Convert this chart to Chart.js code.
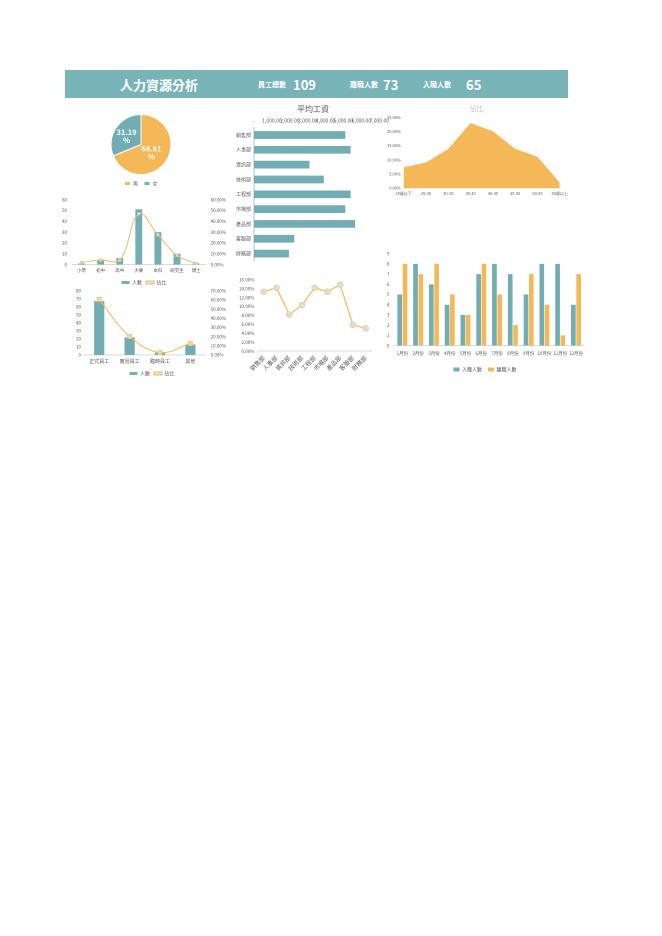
<!DOCTYPE html>
<html>
<head>
<meta charset="utf-8">
<script src="https://cdn.jsdelivr.net/npm/chart.js@4"></script>
<style>
  body { margin: 0; background: #fff; font-family: "Noto Sans CJK TC", sans-serif; }
  .box { position: absolute; }
  #header { position: absolute; left: 65px; top: 70px; width: 503px; height: 28px; background: #78b3b8; color: #fff; }
  #header span { position: absolute; white-space: nowrap; font-weight: bold; }
  .big { font-size: 13px; top: 5px; }
  .small { font-size: 7px; top: 9px; }
</style>
</head>
<body>
<div id="header">
  <span style="left:55px;top:5px;font-size:13px;">人力資源分析</span>
  <span class="small" style="left:193px;">員工總數</span>
  <span class="big" style="left:228px;">109</span>
  <span class="small" style="left:285px;">離職人數</span>
  <span class="big" style="left:318px;">73</span>
  <span class="small" style="left:358px;">入職人數</span>
  <span class="big" style="left:401px;">65</span>
</div>

<canvas id="pie" class="box" style="left:96px;top:110px;"></canvas>
<canvas id="edu" class="box" style="left:55px;top:192px;"></canvas>
<canvas id="type" class="box" style="left:55px;top:283px;"></canvas>
<canvas id="salary" class="box" style="left:225px;top:104px;"></canvas>
<canvas id="share" class="box" style="left:228px;top:274px;"></canvas>
<canvas id="age" class="box" style="left:384px;top:104px;"></canvas>
<canvas id="month" class="box" style="left:380px;top:246px;"></canvas>

<script>
// colours
const teal = "#71adb3";
const orange = "#f5b859";

// gender
const genderLabels = ["男", "女"];
const genderShare = [68.81, 31.19];

// education
const eduLabels = ["小學", "初中", "高中", "大專", "本科", "研究生", "博士"];
const eduCount = [1, 4, 6, 51, 30, 10, 1];
const eduShare = [0.02, 0.042, 0.04, 0.47, 0.275, 0.085, 0.01];

// employee type
const typeLabels = ["正式員工", "實習員工", "臨時員工", "其他"];
const typeCount = [67, 22, 3, 13];
const typeShare = [0.605, 0.201, 0.027, 0.125];

// average salary by department
const deptLabels = ["銷售部", "人事部", "資訊部", "技術部", "工程部", "市場部", "產品部", "客服部", "財務部"];
const deptSalary = [5100, 5400, 3100, 3900, 5400, 5100, 5650, 2250, 1950];
const deptShare = [0.133, 0.142, 0.082, 0.103, 0.142, 0.133, 0.149, 0.059, 0.051];

// age
const ageLabels = ["25歲以下", "25-30", "30-35", "35-40", "40-45", "45-50", "50-55", "55歲以上"];
const ageShare = [0.073, 0.090, 0.138, 0.229, 0.200, 0.138, 0.110, 0.018];

// monthly
const monthLabels = ["1月份", "2月份", "3月份", "4月份", "5月份", "6月份", "7月份", "8月份", "9月份", "10月份", "11月份", "12月份"];
const hires = [5, 8, 6, 4, 3, 7, 8, 7, 5, 8, 8, 4];
const leaves = [8, 7, 8, 5, 3, 8, 5, 2, 7, 4, 1, 7];

Chart.defaults.font.family = '"Noto Sans CJK TC", sans-serif';
Chart.defaults.font.size = 5;
Chart.defaults.color = "#595959";
Chart.defaults.animation = false;
Chart.defaults.responsive = false;
Chart.defaults.devicePixelRatio = 2;
Chart.defaults.plugins.tooltip.enabled = false;

function sizeCanvas(id, w, h) {
  const c = document.getElementById(id);
  c.width = w;
  c.height = h;
  c.style.width = w + "px";
  c.style.height = h + "px";
  return c.getContext("2d");
}

const pct = (v) => (v * 100).toFixed(2) + "%";
const noGrid = { display: false, drawTicks: false };
const smallLegend = {
  position: "bottom",
  labels: { boxWidth: 6, boxHeight: 4, padding: 6, font: { size: 5 } }
};
const comboLegend = {
  position: "bottom", reverse: true,
  labels: { boxWidth: 8, boxHeight: 3, padding: 4, font: { size: 5 } }
};

// pie labels drawn on slices
const pieLabels = {
  id: "pieLabels",
  afterDatasetsDraw(chart) {
    const ctx = chart.ctx;
    chart.getDatasetMeta(0).data.forEach((arc, i) => {
      const p = arc.tooltipPosition();
      ctx.save();
      ctx.fillStyle = "#fff";
      ctx.font = 'bold 7.5px "Noto Sans CJK TC", sans-serif';
      ctx.textAlign = "center";
      ctx.textBaseline = "middle";
      ctx.fillText(genderShare[i].toFixed(2), p.x - 2, p.y - 4);
      ctx.fillText("%", p.x - 2, p.y + 4);
      ctx.restore();
    });
  }
};

new Chart(sizeCanvas("pie", 90, 86), {
  type: "pie",
  data: {
    labels: genderLabels,
    datasets: [{ data: genderShare, backgroundColor: [orange, teal], borderColor: "#fff", borderWidth: 1 }]
  },
  options: {
    layout: { padding: { top: 4, bottom: 0 } },
    plugins: { legend: smallLegend }
  },
  plugins: [pieLabels]
});

// education combo
new Chart(sizeCanvas("edu", 180, 103), {
  data: {
    labels: eduLabels,
    datasets: [
      { type: "line", label: "佔比", data: eduShare, yAxisID: "y1", borderColor: orange, borderWidth: 1,
        tension: 0.4, pointStyle: "rect", pointRadius: 2, pointBackgroundColor: "#dcd8c0", pointBorderColor: "#c9c3a8", pointBorderWidth: 0.5 },
      { type: "bar", label: "人數", data: eduCount, yAxisID: "y", backgroundColor: teal, barPercentage: 0.6, categoryPercentage: 0.6 }
    ]
  },
  options: {
    layout: { padding: { left: 2, right: 4, top: 0 } },
    plugins: { legend: comboLegend },
    scales: {
      x: { grid: noGrid, border: { color: "#d9d9d9" }, ticks: { autoSkip: false, maxRotation: 0, font: { size: 4.5 } } },
      y: { min: 0, max: 60, ticks: { stepSize: 10, autoSkip: false, padding: 5, font: { size: 4.5 } }, grid: noGrid, border: { display: false } },
      y1: { position: "right", min: 0, max: 0.6, ticks: { stepSize: 0.1, autoSkip: false, padding: 5, callback: pct, font: { size: 4.5 } }, grid: noGrid, border: { display: false } }
    }
  }
});

// employee type combo
new Chart(sizeCanvas("type", 180, 103), {
  data: {
    labels: typeLabels,
    datasets: [
      { type: "line", label: "佔比", data: typeShare, yAxisID: "y1", borderColor: orange, borderWidth: 1,
        tension: 0.4, pointStyle: "rect", pointRadius: 3, pointBackgroundColor: "#efd9b4", pointBorderColor: orange, pointBorderWidth: 0.6 },
      { type: "bar", label: "人數", data: typeCount, yAxisID: "y", backgroundColor: teal, barPercentage: 0.8, categoryPercentage: 0.42 }
    ]
  },
  options: {
    layout: { padding: { left: 18, right: 4, top: 0 } },
    plugins: { legend: comboLegend },
    scales: {
      x: { grid: noGrid, border: { color: "#d9d9d9" }, ticks: { autoSkip: false, maxRotation: 0, font: { size: 5 } } },
      y: { min: 0, max: 80, ticks: { stepSize: 10, autoSkip: false, padding: 3, font: { size: 4.5 } }, grid: noGrid, border: { display: false } },
      y1: { position: "right", min: 0, max: 0.7, ticks: { stepSize: 0.1, autoSkip: false, padding: 5, callback: pct, font: { size: 4.5 } }, grid: noGrid, border: { display: false } }
    }
  }
});

// average salary horizontal bars
new Chart(sizeCanvas("salary", 168, 163), {
  type: "bar",
  data: {
    labels: deptLabels,
    datasets: [{ data: deptSalary, backgroundColor: teal, barPercentage: 0.52, categoryPercentage: 1 }]
  },
  options: {
    indexAxis: "y",
    layout: { padding: { left: 8, right: 0 } },
    plugins: {
      legend: { display: false },
      title: { display: true, text: "平均工資", font: { size: 8, weight: "normal" }, color: "#595959", padding: { top: 0, bottom: 0 } }
    },
    scales: {
      x: {
        position: "top", min: 0, max: 7000,
        ticks: { stepSize: 1000, autoSkip: false, maxRotation: 0, padding: 4,
          callback: (v) => v === 0 ? "-" : v.toLocaleString("en-US", { minimumFractionDigits: 2 }) },
        grid: noGrid, border: { display: false }
      },
      y: { grid: noGrid, border: { color: "#bfbfbf" }, ticks: { autoSkip: false, padding: 3, font: { size: 5 } } }
    }
  }
});

// salary share line
new Chart(sizeCanvas("share", 150, 101), {
  type: "line",
  data: {
    labels: deptLabels,
    datasets: [{ data: deptShare, borderColor: orange, borderWidth: 1.2, pointRadius: 3,
      pointBackgroundColor: "#e8dcc4", pointBorderColor: "#d9ccb0", pointBorderWidth: 0.6 }]
  },
  options: {
    layout: { padding: { left: 8, right: 6, top: 4 } },
    plugins: { legend: { display: false } },
    scales: {
      x: { offset: true, grid: noGrid, border: { color: "#d9d9d9" },
        ticks: { autoSkip: false, minRotation: 45, maxRotation: 45, font: { size: 6 } } },
      y: { min: 0, max: 0.16, ticks: { stepSize: 0.02, autoSkip: false, callback: pct, font: { size: 4.5 } }, grid: noGrid, border: { display: false } }
    }
  }
});

// age area
new Chart(sizeCanvas("age", 187, 95), {
  type: "line",
  data: {
    labels: ageLabels,
    datasets: [{ data: ageShare, fill: "origin", backgroundColor: orange, borderColor: orange, borderWidth: 0.5, pointRadius: 0, tension: 0 }]
  },
  options: {
    layout: { padding: { right: 2 } },
    plugins: {
      legend: { display: false },
      title: { display: true, text: "佔比", font: { size: 7, weight: "normal" }, color: "#bfbfbf", padding: { top: 0, bottom: 5 } }
    },
    scales: {
      x: { offset: false, grid: noGrid, border: { color: "#d9d9d9" }, ticks: { autoSkip: false, maxRotation: 0, font: { size: 4 } } },
      y: { min: 0, max: 0.25, ticks: { stepSize: 0.05, autoSkip: false, callback: pct, font: { size: 4 } }, grid: noGrid, border: { display: false } }
    }
  }
});

// monthly hires / leaves
new Chart(sizeCanvas("month", 208, 136), {
  type: "bar",
  data: {
    labels: monthLabels,
    datasets: [
      { label: "入職人數", data: hires, backgroundColor: teal, barPercentage: 0.88, categoryPercentage: 0.67 },
      { label: "離職人數", data: leaves, backgroundColor: orange, barPercentage: 0.88, categoryPercentage: 0.67 }
    ]
  },
  options: {
    layout: { padding: { left: 2, top: 0 } },
    plugins: { legend: smallLegend },
    scales: {
      x: { grid: noGrid, border: { color: "#d9d9d9" }, ticks: { autoSkip: false, maxRotation: 0, padding: 5, font: { size: 4.5 } } },
      y: { min: 0, max: 9, ticks: { stepSize: 1, autoSkip: false, padding: 5, font: { size: 4.5 } }, grid: noGrid, border: { display: false } }
    }
  }
});
</script>
</body>
</html>
